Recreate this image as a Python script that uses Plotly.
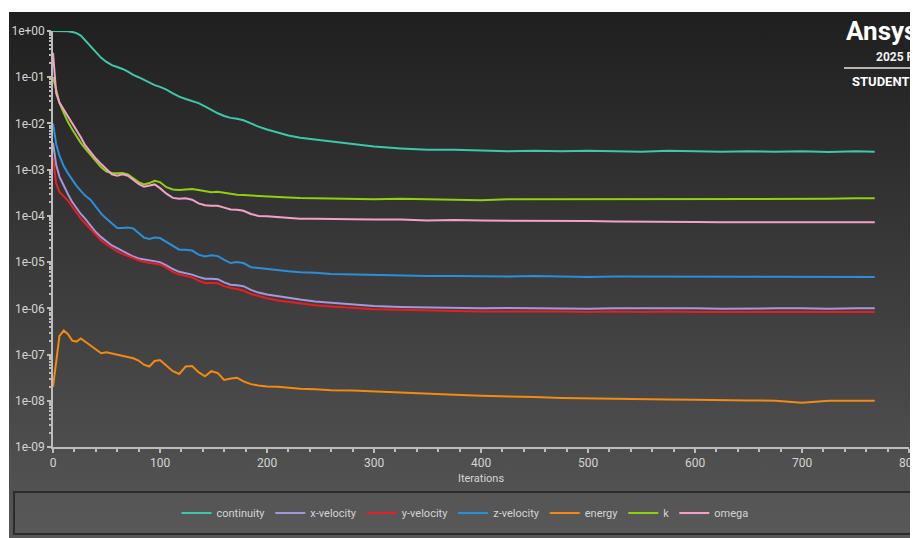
import base64
import plotly.graph_objects as go

iterations = [0, 3, 6, 10, 14, 18, 22, 26, 30, 35, 40, 45, 50, 55, 60, 65, 70, 75, 80, 85,
              90, 95, 100, 106, 112, 118, 124, 130, 136, 142, 148, 154, 160, 166, 172, 178,
              185, 192, 200, 210, 220, 231, 245, 260, 280, 300, 325, 350, 375, 400, 425, 450,
              475, 500, 525, 550, 575, 600, 625, 650, 675, 700, 725, 750, 768]

continuity = [1.0, 1.0, 1.0, 1.0, 0.99, 0.955, 0.90, 0.794, 0.631, 0.479, 0.355, 0.263, 0.214,
              0.182, 0.166, 0.151, 0.132, 0.112, 0.1, 0.0871, 0.0759, 0.0676, 0.0617, 0.0537,
              0.0447, 0.038, 0.0339, 0.0309, 0.0275, 0.0234, 0.0195, 0.0166, 0.0145, 0.0132,
              0.0126, 0.0117, 0.01, 0.00851, 0.00741, 0.00631, 0.0055, 0.0049, 0.00447, 0.00398,
              0.00355, 0.00316, 0.00288, 0.00269, 0.00269, 0.00263, 0.00251, 0.00257, 0.00251,
              0.00257, 0.00251, 0.00245, 0.00257, 0.00251, 0.00245, 0.00251, 0.00245, 0.00251,
              0.0024, 0.00251, 0.00245]

x_velocity = [3.8e-3, 1.26e-3, 7.08e-4, 4.37e-4, 2.95e-4, 2.0e-4, 1.45e-4, 1.1e-4, 8.71e-5,
              6.31e-5, 4.47e-5, 3.47e-5, 2.82e-5, 2.29e-5, 2.0e-5, 1.74e-5, 1.48e-5, 1.32e-5,
              1.2e-5, 1.15e-5, 1.12e-5, 1.07e-5, 1.0e-5, 8.51e-6, 7.08e-6, 6.17e-6, 5.75e-6,
              5.37e-6, 4.79e-6, 4.37e-6, 4.37e-6, 4.27e-6, 3.63e-6, 3.24e-6, 3.16e-6, 3.02e-6,
              2.51e-6, 2.19e-6, 2.0e-6, 1.82e-6, 1.66e-6, 1.55e-6, 1.41e-6, 1.32e-6, 1.2e-6,
              1.12e-6, 1.07e-6, 1.05e-6, 1.02e-6, 1.0e-6, 1.02e-6, 1.0e-6, 1.0e-6, 9.77e-7,
              1.0e-6, 1.0e-6, 1.02e-6, 1.0e-6, 9.77e-7, 1.0e-6, 1.0e-6, 1.0e-6, 9.77e-7, 1.0e-6,
              1.0e-6]

y_velocity = [1.82e-3, 5.01e-4, 3.31e-4, 2.63e-4, 2.14e-4, 1.58e-4, 1.17e-4, 8.71e-5, 6.92e-5,
              5.13e-5, 3.8e-5, 2.95e-5, 2.4e-5, 2.0e-5, 1.7e-5, 1.51e-5, 1.35e-5, 1.23e-5,
              1.1e-5, 1.02e-5, 9.55e-6, 9.33e-6, 8.91e-6, 7.59e-6, 6.17e-6, 5.37e-6, 5.01e-6,
              4.68e-6, 3.98e-6, 3.55e-6, 3.55e-6, 3.47e-6, 3.02e-6, 2.75e-6, 2.63e-6, 2.4e-6,
              2.04e-6, 1.82e-6, 1.66e-6, 1.48e-6, 1.38e-6, 1.29e-6, 1.17e-6, 1.1e-6, 1.02e-6,
              9.55e-7, 9.33e-7, 8.91e-7, 8.71e-7, 8.51e-7, 8.51e-7, 8.71e-7, 8.51e-7, 8.32e-7,
              8.51e-7, 8.32e-7, 8.51e-7, 8.32e-7, 8.32e-7, 8.51e-7, 8.32e-7, 8.51e-7, 8.32e-7,
              8.32e-7, 8.32e-7]

z_velocity = [1.0e-2, 3.55e-3, 2.0e-3, 1.2e-3, 8.32e-4, 6.03e-4, 4.47e-4, 3.47e-4, 2.75e-4,
              2.24e-4, 1.58e-4, 1.12e-4, 8.71e-5, 6.76e-5, 5.5e-5, 5.5e-5, 5.62e-5, 5.37e-5,
              4.27e-5, 3.39e-5, 3.16e-5, 3.39e-5, 3.31e-5, 2.75e-5, 2.19e-5, 1.86e-5, 1.86e-5,
              1.78e-5, 1.45e-5, 1.32e-5, 1.41e-5, 1.35e-5, 1.12e-5, 9.55e-6, 1.0e-5, 9.55e-6,
              7.76e-6, 7.41e-6, 7.24e-6, 6.76e-6, 6.31e-6, 6.03e-6, 5.89e-6, 5.5e-6, 5.37e-6,
              5.25e-6, 5.13e-6, 5.01e-6, 5.01e-6, 4.9e-6, 4.9e-6, 5.01e-6, 4.9e-6, 4.79e-6,
              4.9e-6, 4.9e-6, 4.79e-6, 4.9e-6, 4.79e-6, 4.9e-6, 4.79e-6, 4.79e-6, 4.9e-6,
              4.79e-6, 4.79e-6]

energy = [2.0e-8, 7.94e-8, 2.51e-7, 3.31e-7, 2.75e-7, 2.0e-7, 1.91e-7, 2.24e-7, 1.91e-7,
          1.58e-7, 1.26e-7, 1.07e-7, 1.12e-7, 1.05e-7, 1.0e-7, 9.55e-8, 8.91e-8, 8.32e-8,
          7.41e-8, 6.03e-8, 5.5e-8, 7.24e-8, 7.59e-8, 5.75e-8, 4.37e-8, 3.8e-8, 5.5e-8,
          5.62e-8, 4.17e-8, 3.39e-8, 4.37e-8, 3.98e-8, 2.82e-8, 3.02e-8, 3.16e-8, 2.63e-8,
          2.29e-8, 2.14e-8, 2.04e-8, 2.0e-8, 1.91e-8, 1.82e-8, 1.78e-8, 1.7e-8, 1.66e-8,
          1.58e-8, 1.48e-8, 1.41e-8, 1.35e-8, 1.29e-8, 1.26e-8, 1.2e-8, 1.15e-8, 1.12e-8,
          1.1e-8, 1.1e-8, 1.07e-8, 1.05e-8, 1.05e-8, 1.02e-8, 1.0e-8, 9.12e-9, 1.0e-8,
          1.0e-8, 1.0e-8]

k = [0.1, 0.0501, 0.0282, 0.017, 0.0107, 0.00741, 0.00525, 0.0038, 0.00288, 0.00209, 0.00148,
     0.00112, 9.12e-4, 8.51e-4, 8.32e-4, 8.51e-4, 7.94e-4, 6.61e-4, 5.37e-4, 4.79e-4, 5.13e-4,
     5.75e-4, 5.37e-4, 4.17e-4, 3.72e-4, 3.63e-4, 3.72e-4, 3.8e-4, 3.63e-4, 3.39e-4, 3.24e-4,
     3.31e-4, 3.16e-4, 2.95e-4, 2.88e-4, 2.82e-4, 2.75e-4, 2.69e-4, 2.63e-4, 2.57e-4, 2.51e-4,
     2.45e-4, 2.4e-4, 2.34e-4, 2.34e-4, 2.29e-4, 2.34e-4, 2.29e-4, 2.24e-4, 2.19e-4, 2.29e-4,
     2.29e-4, 2.34e-4, 2.29e-4, 2.29e-4, 2.34e-4, 2.29e-4, 2.34e-4, 2.29e-4, 2.29e-4, 2.34e-4,
     2.29e-4, 2.34e-4, 2.4e-4, 2.4e-4]

omega = [0.339, 0.0447, 0.0282, 0.02, 0.0148, 0.0105, 0.00724, 0.00501, 0.00339, 0.0024,
         0.00174, 0.00132, 1.0e-3, 7.94e-4, 7.41e-4, 7.94e-4, 7.41e-4, 6.03e-4, 4.9e-4, 4.27e-4,
         4.57e-4, 4.79e-4, 3.98e-4, 3.02e-4, 2.45e-4, 2.34e-4, 2.4e-4, 2.24e-4, 1.86e-4, 1.7e-4,
         1.66e-4, 1.66e-4, 1.51e-4, 1.38e-4, 1.35e-4, 1.29e-4, 1.1e-4, 1.0e-4, 9.77e-5, 9.33e-5,
         8.91e-5, 8.71e-5, 8.71e-5, 8.51e-5, 8.51e-5, 8.32e-5, 8.32e-5, 7.94e-5, 8.13e-5,
         7.94e-5, 7.94e-5, 7.76e-5, 7.94e-5, 7.76e-5, 7.59e-5, 7.59e-5, 7.41e-5, 7.41e-5,
         7.24e-5, 7.24e-5, 7.41e-5, 7.24e-5, 7.24e-5, 7.24e-5, 7.24e-5]

series_names = ["continuity", "x-velocity", "y-velocity", "z-velocity", "energy", "k", "omega"]
series_values = [continuity, x_velocity, y_velocity, z_velocity, energy, k, omega]
series_colors = ["#3cc8aa", "#a497dc", "#ec1c24", "#2b8fd8", "#f38a12", "#8fd00f", "#f2a2c8"]

y_tick_vals = [1e0, 1e-1, 1e-2, 1e-3, 1e-4, 1e-5, 1e-6, 1e-7, 1e-8, 1e-9]
y_tick_text = ["1e+00", "1e-01", "1e-02", "1e-03", "1e-04", "1e-05", "1e-06", "1e-07", "1e-08", "1e-09"]
y_minor_vals = [m * d for d in [1e-1, 1e-2, 1e-3, 1e-4, 1e-5, 1e-6, 1e-7, 1e-8, 1e-9]
                for m in [2, 3, 4, 5, 6, 7, 8, 9]]

fig = go.Figure()
for name, vals, col in zip(series_names, series_values, series_colors):
    fig.add_trace(go.Scatter(x=iterations, y=vals, mode="lines", name=name,
                             line=dict(color=col, width=2)))

svg = ('<svg xmlns="http://www.w3.org/2000/svg" width="100" height="100" '
       'preserveAspectRatio="none"><defs><linearGradient id="g" x1="0" y1="0" x2="0" y2="1">'
       '<stop offset="0" stop-color="#1f1f1f"/><stop offset="1" stop-color="#585858"/>'
       '</linearGradient></defs><rect width="100" height="100" fill="url(#g)"/></svg>')
bg_src = "data:image/svg+xml;base64," + base64.b64encode(svg.encode()).decode()

# The page body adds an 8px offset; positions below are given in screenshot pixels.
OFF = 8
W, H = 918, 538
plot_l, plot_r, plot_t, plot_b = 53 - OFF, 909 - OFF, 31 - OFF, 447 - OFF
ml, mr, mt, mb = plot_l, W - plot_r, plot_t, H - plot_b
pw, ph = plot_r - plot_l, plot_b - plot_t


def px(xs):
    return (xs - OFF - plot_l) / pw


def py(ys):
    return (plot_b - (ys - OFF)) / ph


axis_col = "#bcbcbc"
txt_col = "#d4d4d4"
font_fam = "Roboto, 'Open Sans', sans-serif"

fig.update_layout(
    width=W, height=H,
    margin=dict(l=ml, r=mr, t=mt, b=mb, pad=0, autoexpand=False),
    paper_bgcolor="white",
    plot_bgcolor="rgba(0,0,0,0)",
    font=dict(family=font_fam, size=12, color=txt_col),
    showlegend=True,
    legend=dict(orientation="h", xref="container", x=(465 - OFF) / W, xanchor="center",
                yref="container", y=(H - (513 - OFF)) / H, yanchor="middle",
                bgcolor="rgba(0,0,0,0)", font=dict(size=11, color=txt_col),
                itemwidth=30, tracegroupgap=0),
    images=[dict(source=bg_src, xref="paper", yref="paper", x=px(9), y=py(12),
                 sizex=px(930) - px(9), sizey=py(12) - py(548), sizing="stretch",
                 xanchor="left", yanchor="top", layer="below")],
    shapes=[
        dict(type="rect", xref="paper", yref="paper", x0=px(14), x1=px(912), y0=py(534), y1=py(492),
             line=dict(color="#2c2c2c", width=2), fillcolor="rgba(92,92,92,0.35)", layer="below"),
        dict(type="line", xref="paper", yref="paper", x0=px(844), x1=px(940), y0=py(68), y1=py(68),
             line=dict(color="#e6e6e6", width=1.5)),
    ],
    annotations=[
        dict(text="<b>Ansys</b>", xref="paper", yref="paper", x=px(844), y=py(31),
             xanchor="left", yanchor="middle", showarrow=False,
             font=dict(size=26, color="white", family=font_fam)),
        dict(text="<b>2025 R2</b>", xref="paper", yref="paper", x=px(874), y=py(57),
             xanchor="left", yanchor="middle", showarrow=False,
             font=dict(size=12, color="#f0f0f0", family=font_fam)),
        dict(text="<b>STUDENT</b>", xref="paper", yref="paper", x=px(850), y=py(81),
             xanchor="left", yanchor="middle", showarrow=False,
             font=dict(size=13, color="white", family=font_fam)),
    ],
    xaxis=dict(range=[0, 800], dtick=100, tick0=0, showgrid=False, zeroline=False,
               automargin=False,
               showline=True, linecolor=axis_col, linewidth=1.5,
               ticks="outside", ticklen=4, tickcolor=axis_col, tickwidth=1.5,
               tickfont=dict(size=12, color=txt_col),
               minor=dict(dtick=20, ticks="outside", ticklen=3, tickcolor=axis_col, tickwidth=1.5),
               title=dict(text="Iterations", font=dict(size=11, color=txt_col), standoff=5)),
    yaxis=dict(type="log", range=[-9, 0], tickvals=y_tick_vals, ticktext=y_tick_text,
               automargin=False,
               showgrid=False, zeroline=False, showline=True, linecolor=axis_col, linewidth=1.5,
               ticks="outside", ticklen=4, tickcolor=axis_col, tickwidth=1.5,
               tickfont=dict(size=12, color=txt_col),
               minor=dict(tickvals=y_minor_vals, ticks="outside", ticklen=2,
                          tickcolor=axis_col, tickwidth=1.5)),
)

fig.write_html("out.html")
